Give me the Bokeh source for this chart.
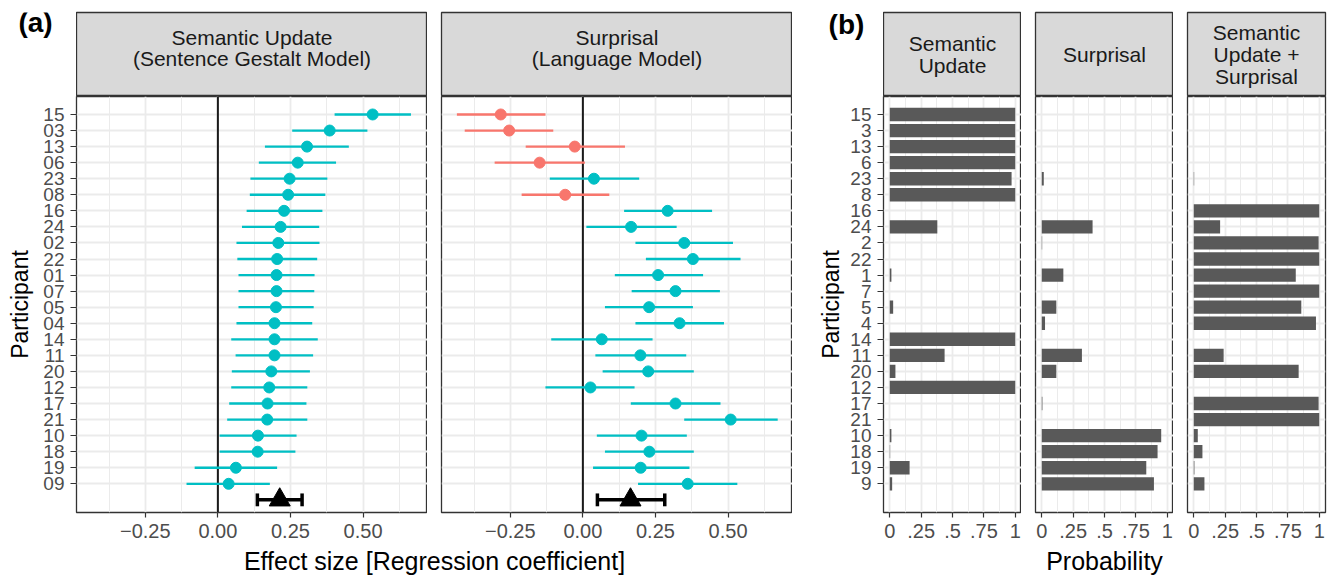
from bokeh.plotting import figure
from bokeh.layouts import row, column
from bokeh.models import Range1d, FixedTicker, Grid, Span, ColumnDataSource
from bokeh.core.properties import value
from bokeh.embed import file_html
from bokeh.resources import INLINE

# ---------------- data ----------------
participants = ["15", "03", "13", "06", "23", "08", "16", "24", "02", "22", "01", "07",
                "05", "04", "14", "11", "20", "12", "17", "21", "10", "18", "19", "09"]

su_est = [0.533, 0.385, 0.307, 0.275, 0.247, 0.242, 0.228, 0.216, 0.208, 0.204, 0.202, 0.202,
          0.200, 0.195, 0.195, 0.195, 0.184, 0.177, 0.171, 0.170, 0.138, 0.137, 0.062, 0.037]
su_lo = [0.402, 0.256, 0.162, 0.141, 0.112, 0.110, 0.099, 0.083, 0.064, 0.067, 0.071, 0.071,
         0.071, 0.064, 0.046, 0.061, 0.048, 0.046, 0.039, 0.032, 0.006, 0.006, -0.080, -0.108]
su_hi = [0.665, 0.515, 0.451, 0.407, 0.377, 0.370, 0.360, 0.349, 0.350, 0.342, 0.333, 0.332,
         0.330, 0.325, 0.344, 0.328, 0.317, 0.308, 0.305, 0.308, 0.271, 0.267, 0.204, 0.179]

sp_est = [-0.283, -0.254, -0.028, -0.149, 0.038, -0.061, 0.292, 0.166, 0.349, 0.379, 0.259, 0.319,
          0.228, 0.333, 0.065, 0.198, 0.225, 0.026, 0.319, 0.509, 0.202, 0.229, 0.199, 0.361]
sp_lo = [-0.434, -0.407, -0.197, -0.304, -0.114, -0.211, 0.142, 0.012, 0.181, 0.217, 0.110, 0.168,
         0.076, 0.181, -0.109, 0.043, 0.068, -0.129, 0.165, 0.349, 0.048, 0.076, 0.035, 0.190]
sp_hi = [-0.129, -0.102, 0.145, 0.007, 0.194, 0.091, 0.445, 0.323, 0.517, 0.543, 0.414, 0.472,
         0.379, 0.486, 0.240, 0.356, 0.382, 0.178, 0.474, 0.671, 0.358, 0.382, 0.367, 0.532]

pooled_su = [0.213, 0.136, 0.290]   # estimate, lower, upper
pooled_sp = [0.164, 0.050, 0.282]

prob_su = [1.0, 1.0, 1.0, 1.0, 0.971, 1.0, 0.0, 0.379, 0.0, 0.0, 0.013, 0.0,
           0.027, 0.0, 1.0, 0.437, 0.045, 1.0, 0.0, 0.0, 0.013, 0.003, 0.158, 0.019]
prob_sp = [0.0, 0.0, 0.0, 0.0, 0.016, 0.0, 0.0, 0.405, 0.003, 0.0, 0.172, 0.0,
           0.116, 0.026, 0.0, 0.320, 0.116, 0.0, 0.005, 0.0, 0.952, 0.923, 0.833, 0.894]
prob_both = [0.0, 0.0, 0.0, 0.0, 0.003, 0.0, 1.0, 0.210, 0.995, 1.0, 0.813, 1.0,
             0.857, 0.974, 0.0, 0.238, 0.836, 0.0, 0.995, 1.0, 0.032, 0.069, 0.005, 0.085]

a_ticks = [-0.25, 0.0, 0.25, 0.5]
a_tick_labels = ["\u22120.25", "0.00", "0.25", "0.50"]
a_minor = [-0.375, -0.125, 0.125, 0.375, 0.625]
b_ticks = [0.0, 0.25, 0.5, 0.75, 1.0]
b_tick_labels = ["0", ".25", ".5", ".75", "1"]
b_minor = [0.125, 0.375, 0.625, 0.875]

a_strips = [["Semantic Update", "(Sentence Gestalt Model)"], ["Surprisal", "(Language Model)"]]
b_strips = [["Semantic", "Update"], ["Surprisal"], ["Semantic", "Update +", "Surprisal"]]

# ---------------- style / layout ----------------
FONT = "Liberation Sans"
TEAL = "#00BFC4"
RED = "#F8766D"
BAR = "#595959"
GRID = "#EBEBEB"
BORDER = "#333333"

N = len(participants)
ypos = [N - i for i in range(N)]          # 15 at top ... 09 at bottom
Y_RANGE = (-0.787, 25.12)
A_XRANGE = (-0.487, 0.722)
B_XRANGE = (-0.05, 1.05)

FRAME_H = 416
STRIP_H = 84
TOP_PAD = 12
BOTTOM_AXIS = 34
TITLE_H = 29

A_W = 351
B_W = 138
GAP = 14
A_LEFT = 76
B_LEFT = 91


def style_xaxis(p, ticks, labels):
    ax = p.xaxis[0]
    ax.ticker = FixedTicker(ticks=ticks)
    ax.major_label_overrides = {t: l for t, l in zip(ticks, labels)}
    ax.axis_line_color = None
    ax.major_tick_out = 5
    ax.major_tick_in = 0
    ax.minor_tick_line_color = None
    ax.major_tick_line_color = BORDER
    ax.major_tick_line_width = 1.2
    ax.major_label_text_font = FONT
    ax.major_label_text_font_size = "20px"
    ax.major_label_text_color = "#4D4D4D"
    ax.major_label_standoff = 6


def style_yaxis(p, labels, standoff):
    ax = p.yaxis[0]
    ax.ticker = FixedTicker(ticks=ypos)
    ax.major_label_overrides = {y: l for y, l in zip(ypos, labels)}
    ax.axis_line_color = None
    ax.major_tick_out = 6
    ax.major_tick_in = 0
    ax.minor_tick_line_color = None
    ax.major_tick_line_color = BORDER
    ax.major_tick_line_width = 1.2
    ax.major_label_text_font = FONT
    ax.major_label_text_font_size = "19px"
    ax.major_label_text_color = "#4D4D4D"
    ax.major_label_standoff = 6
    ax.axis_label = "Participant"
    ax.axis_label_text_font = FONT
    ax.axis_label_text_font_size = "23px"
    ax.axis_label_text_font_style = "normal"
    ax.axis_label_text_color = "#000000"
    ax.axis_label_standoff = standoff


def panel(frame_w, left, xr, ticks, labels, minor, yaxis_labels=None, standoff=0, right=0):
    p = figure(title=None, frame_width=frame_w, frame_height=FRAME_H,
               x_range=Range1d(*xr), y_range=Range1d(*Y_RANGE),
               x_axis_location="below",
               y_axis_location="left" if yaxis_labels else None,
               min_border_left=left, min_border_right=right, min_border_top=0,
               min_border_bottom=BOTTOM_AXIS,
               output_backend="svg", toolbar_location=None,
               background_fill_color="white", border_fill_color="white",
               outline_line_color=BORDER, outline_line_width=1.3)
    p.grid.visible = False
    p.add_layout(Grid(dimension=0, ticker=FixedTicker(ticks=ticks, minor_ticks=minor),
                      grid_line_color=GRID, grid_line_width=1.8,
                      minor_grid_line_color=GRID, minor_grid_line_width=1.0))
    p.add_layout(Grid(dimension=1, ticker=FixedTicker(ticks=ypos),
                      grid_line_color=GRID, grid_line_width=1.8))
    style_xaxis(p, ticks, labels)
    if yaxis_labels:
        style_yaxis(p, yaxis_labels, standoff)
    return p


def strip(frame_w, left, lines, ys, right=0):
    s = figure(title=None, frame_width=frame_w, frame_height=STRIP_H,
               x_range=Range1d(0, 1), y_range=Range1d(STRIP_H, 0),
               x_axis_location=None, y_axis_location=None,
               min_border_left=left, min_border_right=right, min_border_top=TOP_PAD,
               min_border_bottom=0,
               output_backend="svg", toolbar_location=None,
               background_fill_color="#D9D9D9", border_fill_color="white",
               outline_line_color=BORDER, outline_line_width=1.3)
    s.grid.visible = False
    s.text(x=[0.5] * len(lines), y=ys, text=lines, text_align="center",
           text_baseline="middle", text_font=value(FONT), text_font_size="21px",
           text_color="#1A1A1A")
    return s


def blank(w, h, texts, xs, ys, size, bold=False, color="#000000"):
    f = figure(title=None, frame_width=w, frame_height=h,
               x_range=Range1d(0, w), y_range=Range1d(h, 0),
               x_axis_location=None, y_axis_location=None,
               min_border_left=0, min_border_right=0, min_border_top=0, min_border_bottom=0,
               output_backend="svg", toolbar_location=None,
               background_fill_color="white", border_fill_color="white",
               outline_line_color=None)
    f.grid.visible = False
    f.text(x=xs, y=ys, text=texts, text_align="center", text_baseline="middle",
           text_font=value(FONT), text_font_size=size,
           text_font_style="bold" if bold else "normal", text_color=color)
    return f


def forest(p, est, lo, hi, pooled):
    colors = [RED if e < 0 else TEAL for e in est]
    src = ColumnDataSource(dict(y=ypos, est=est, lo=lo, hi=hi, color=colors))
    p.add_layout(Span(location=0, dimension="height", line_color="#1A1A1A",
                      line_width=2, level="underlay"))
    p.segment(x0="lo", x1="hi", y0="y", y1="y", line_color="color", line_width=2.3, source=src)
    p.scatter(x="est", y="y", size=11, fill_color="color", line_color="color", source=src)
    e, l, h = pooled
    p.segment(x0=[l], x1=[h], y0=[0], y1=[0], line_color="black", line_width=3.5)
    p.segment(x0=[l, h], x1=[l, h], y0=[-0.4, -0.4], y1=[0.4, 0.4], line_color="black", line_width=3.5)
    p.scatter(x=[e], y=[0], marker="triangle", size=21, fill_color="black", line_color="black")


def bars(p, vals):
    p.hbar(y=ypos, left=0, right=vals, height=0.83, fill_color=BAR, line_color=None)


# ---------------- top row: labels & strips ----------------
lab_a = blank(A_LEFT, STRIP_H + TOP_PAD, ["(a)"], [35], [10], "28px", bold=True)
st_a1 = strip(A_W, 0, a_strips[0], [25, 46])
st_a2 = strip(A_W, GAP, a_strips[1], [25, 46])
lab_b = blank(B_LEFT, STRIP_H + TOP_PAD, ["(b)"], [54], [12], "28px", bold=True)
st_b1 = strip(B_W, 0, b_strips[0], [31, 53])
st_b2 = strip(B_W, GAP, b_strips[1], [42])
st_b3 = strip(B_W, GAP, b_strips[2], [20, 42, 64], right=2)

# ---------------- panel row ----------------
pa1 = panel(A_W, A_LEFT, A_XRANGE, a_ticks, a_tick_labels, a_minor, yaxis_labels=participants, standoff=7)
forest(pa1, su_est, su_lo, su_hi, pooled_su)
pa2 = panel(A_W, GAP, A_XRANGE, a_ticks, a_tick_labels, a_minor)
forest(pa2, sp_est, sp_lo, sp_hi, pooled_sp)

b_labels = [str(int(x)) for x in participants]
pb1 = panel(B_W, B_LEFT, B_XRANGE, b_ticks, b_tick_labels, b_minor, yaxis_labels=b_labels, standoff=3)
bars(pb1, prob_su)
pb2 = panel(B_W, GAP, B_XRANGE, b_ticks, b_tick_labels, b_minor)
bars(pb2, prob_sp)
pb3 = panel(B_W, GAP, B_XRANGE, b_ticks, b_tick_labels, b_minor, right=2)
bars(pb3, prob_both)

# ---------------- bottom row: axis titles ----------------
TOTAL_W = A_LEFT + A_W + GAP + A_W + B_LEFT + B_W + GAP + B_W + GAP + B_W + 2
a_center = A_LEFT + (A_W * 2 + GAP) / 2
b_center = A_LEFT + A_W * 2 + GAP + B_LEFT + (B_W * 3 + GAP * 2) / 2
titles = blank(TOTAL_W, TITLE_H, ["Effect size [Regression coefficient]", "Probability"],
               [a_center, b_center], [TITLE_H / 2, TITLE_H / 2], "25px")

layout = column(
    row(lab_a, st_a1, st_a2, lab_b, st_b1, st_b2, st_b3, spacing=0),
    row(pa1, pa2, pb1, pb2, pb3, spacing=0),
    titles,
    spacing=0,
)

open("out.html", "w").write(file_html(layout, INLINE))
